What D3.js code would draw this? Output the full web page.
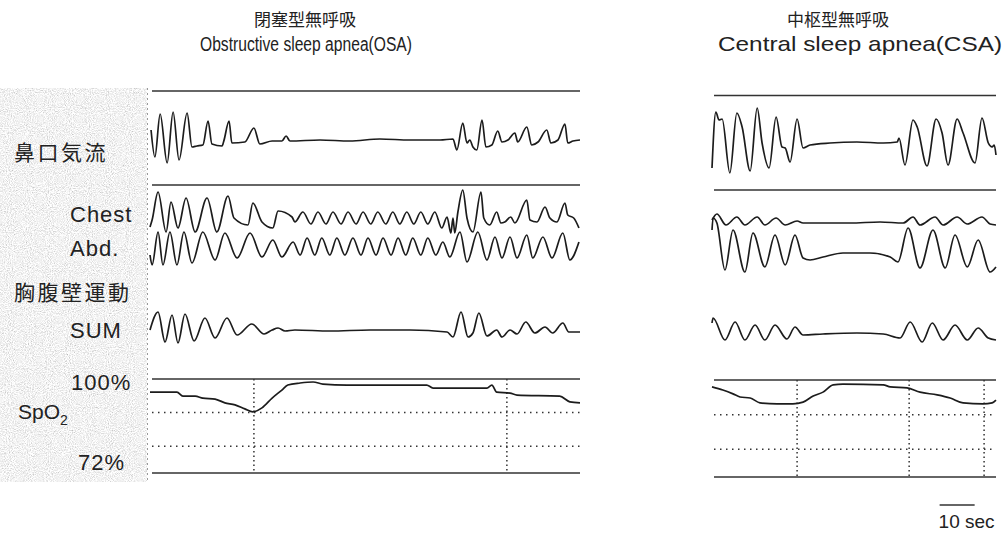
<!DOCTYPE html>
<html>
<head>
<meta charset="utf-8">
<script src="https://cdn.jsdelivr.net/npm/d3@7"></script>
<style>
  body { margin: 0; background: #fff; }
  text { font-family: "Liberation Sans", Arial, sans-serif; fill: #222; }
  .jp { font-family: "Noto Sans CJK JP", sans-serif; }
</style>
</head>
<body>
<div id="chart"></div>
<script>
const svgWidth = 1006
const svgHeight = 533

// ---- data: [time (s), amplitude (a.u.)] ----
// Obstructive sleep apnea
const osaFlow = [[0.3,10],[1.4,-17],[2.9,26],[4.9,-23],[6.6,28],[8.3,-20],[10.6,27],[12.0,-7],[13.4,-6],[15.1,-5],[16.6,19],[17.7,-4],[20.6,-6],[21.1,-1],[22.6,19],[23.4,-3],[27.1,-2],[29.7,12],[31.4,-4],[34.9,-1],[37.7,-1],[38.9,4],[40.0,-1],[48.6,0],[57.1,-1],[65.7,1],[74.3,0],[82.9,0],[86.6,1],[87.7,-10],[89.4,17],[90.6,-3],[91.4,0],[92.3,-7],[93.4,-10],[94.9,20],[96.0,-7],[97.7,-5],[99.4,9],[100.6,-2],[102.3,0],[104.3,7],[105.1,-2],[107.7,13],[109.1,-5],[110.9,-2],[113.4,10],[114.6,-3],[116.6,0],[118.6,16],[119.4,-3],[120.9,-1],[122.9,0]]
const osaChest = [[0,-12],[0.6,-5],[2.3,23],[4.6,-17],[6.0,13],[8.0,-13],[10.3,17],[12.9,-17],[16.3,17],[19.1,-17],[22.3,19],[24.0,-3],[28.0,-10],[29.4,12],[32.0,-7],[35.1,-13],[36.6,4],[40.6,-2],[41.4,-7],[43.7,3],[46.0,-9],[48.0,3],[50.3,-9],[52.3,3],[54.6,-9],[56.6,3],[58.9,-9],[60.9,3],[63.1,-9],[65.1,3],[67.4,-9],[69.4,3],[71.4,-9],[73.4,3],[75.4,-9],[77.4,3],[79.4,-9],[81.4,3],[83.4,-13],[84.9,-2],[86.0,-18],[86.6,-3],[87.1,-18],[88.0,3],[89.4,25],[90.6,-3],[92.3,-17],[94.6,23],[95.4,-3],[97.1,-10],[99.1,3],[100.3,-8],[101.4,-7],[103.1,-2],[104.3,-8],[107.7,15],[108.6,-5],[110.6,-7],[112.9,8],[114.3,-3],[116.3,-7],[118.6,12],[119.4,0],[121.1,-3],[122.6,-13]]
const osaAbd = [[0,-7],[0.6,-17],[2.3,16],[3.7,-17],[5.7,16],[7.7,-17],[9.7,16],[12.0,-15],[15.1,16],[18.6,-12],[21.4,15],[24.9,-10],[28.6,15],[32.0,-9],[35.1,8],[37.7,-9],[40.9,6],[42.9,-7],[44.9,10],[47.1,-7],[49.1,10],[51.4,-7],[53.4,10],[55.7,-7],[58.0,10],[60.3,-7],[62.3,10],[64.6,-7],[66.6,10],[68.9,-7],[70.9,10],[73.1,-7],[75.1,10],[77.4,-7],[79.4,10],[81.7,-7],[83.7,6],[85.7,-9],[88.6,16],[90.6,-14],[93.7,16],[96.3,-12],[98.6,11],[100.6,-10],[102.9,11],[104.9,-10],[107.7,13],[109.4,-10],[112.3,11],[114.9,-10],[118.0,15],[120.0,-12],[122.6,6]]
const osaSum = [[0,0],[2.3,18],[4.3,-12],[6.3,15],[8.0,-13],[10.0,16],[12.6,-11],[15.7,12],[18.6,-8],[22.0,12],[24.9,-5],[29.1,6],[32.6,-4],[34.9,0],[36.6,2],[38.6,-1],[41.4,0],[51.4,-1],[62.9,0],[74.3,0],[84.9,-2],[86.6,-7],[88.9,18],[90.9,-7],[92.3,-3],[94.0,17],[96.3,-6],[99.1,0],[100.6,-7],[102.9,0],[104.9,-4],[107.4,8],[110.0,-3],[112.9,3],[115.1,-3],[118.0,7],[119.7,-2],[122.9,-2]]
// SpO2 in %
const osaSpO2 = [[0,96.1],[7.7,96.1],[9.4,94.9],[12.9,94.9],[15.1,94.3],[18.6,94.0],[21.4,92.9],[24.3,92.3],[27.1,91.1],[29.4,90.2],[32.0,91.4],[34.9,94.3],[37.7,96.7],[39.4,98.2],[42.9,98.8],[46.6,99.1],[49.4,98.5],[56.3,98.2],[79.1,98.2],[80.9,97.3],[96.3,97.3],[97.7,98.2],[99.1,96.1],[102.9,95.8],[104.9,95.2],[117.1,94.9],[120.0,93.2],[122.9,92.9]]
const osaMarks = [29.7, 102.0]
const osaDuration = 122.9

// Central sleep apnea
const csaFlow = [[0,-26],[1.1,30],[2.0,22],[2.9,23],[5.1,-31],[7.1,29],[8.6,15],[10.9,-29],[12.9,34],[14.3,-1],[16.3,-26],[18.3,25],[20.0,-5],[20.9,-6],[22.3,-20],[24.3,23],[26.0,-6],[28.0,-3],[33.7,-1],[41.4,0],[48.9,-1],[52.9,0],[53.4,4],[55.1,-23],[57.4,22],[58.6,15],[61.4,-24],[64.0,23],[65.7,9],[67.4,-23],[70.0,23],[71.7,9],[75.1,-21],[77.1,24],[78.9,-1],[80.0,-5],[80.6,-3],[81.1,-13]]
const csaChest = [[0,1],[1.4,7],[4.0,-4],[7.1,4],[9.4,-4],[12.9,4],[15.1,-4],[18.3,3],[20.9,-4],[24.3,0],[26.0,-2],[39.4,-2],[48.0,-1],[54.6,-2],[57.4,4],[59.4,-4],[63.7,4],[66.0,-4],[70.0,4],[72.9,-3],[77.1,4],[79.4,-3],[81.1,-4]]
const csaAbd = [[0,20],[0.3,32],[1.4,27],[3.7,-20],[6.0,20],[9.4,-22],[11.7,17],[15.1,-17],[18.0,15],[20.9,-15],[23.7,15],[26.0,-8],[28.0,-10],[31.7,-7],[37.4,-3],[45.1,-3],[50.9,-7],[53.1,-12],[56.0,22],[59.4,-18],[63.1,20],[66.6,-18],[69.4,15],[72.9,-17],[76.0,10],[79.4,-22],[81.1,-17]]
const csaSum = [[0,9],[0.3,14],[3.7,-8],[6.6,10],[9.4,-8],[12.3,7],[15.1,-8],[18.0,7],[21.4,-7],[23.7,5],[26.0,-3],[31.7,-2],[41.4,-1],[48.9,-2],[53.7,-6],[56.6,10],[60.0,-10],[62.9,9],[66.0,-8],[69.4,7],[72.9,-8],[76.0,4],[78.9,-6],[81.1,-8]]
const csaSpO2 = [[0,98.0],[3.1,97.1],[6.0,96.0],[8.0,95.1],[10.9,94.8],[13.7,93.4],[18.6,93.1],[23.1,93.1],[26.0,93.6],[28.9,95.4],[31.7,96.5],[34.6,98.6],[37.4,98.8],[48.9,98.6],[50.9,98.0],[55.7,97.7],[59.4,96.5],[64.3,95.7],[68.0,94.8],[71.7,93.4],[77.4,93.1],[80.0,93.4],[81.1,94.2]]
const csaMarks = [24.3, 56.3, 77.7]
const csaDuration = 81.1

const spo2Range = [72, 100]
const spo2Grid = [90, 80]
const scaleBar = { start: 65, length: 10, label: "10 sec" }

const rowLabels = [
  { text: "鼻口気流", jp: true, x: 14, y: 160 },
  { text: "Chest", x: 70, y: 222 },
  { text: "Abd.", x: 70, y: 256 },
  { text: "胸腹壁運動", jp: true, x: 14, y: 300 },
  { text: "SUM", x: 70, y: 338 },
  { text: "100%", x: 71, y: 390 },
  { text: "72%", x: 78, y: 470 }
]

// ---- layout ----
const panels = [
  {
    titleJp: "閉塞型無呼吸", titleEn: "Obstructive sleep apnea(OSA)",
    cx: 306, jpX: 305, enWidth: 212, enSize: 20,
    xRange: [150, 580], duration: osaDuration,
    frame: [91, 185], spo2Box: [379, 473],
    traces: [
      { data: osaFlow, base: 140 },
      { data: osaChest, base: 215 },
      { data: osaAbd, base: 248 },
      { data: osaSum, base: 330 }
    ],
    spo2: osaSpO2, marks: osaMarks
  },
  {
    titleJp: "中枢型無呼吸", titleEn: "Central sleep apnea(CSA)",
    cx: 860, jpX: 838, enWidth: 284, enSize: 21,
    xRange: [712, 996], duration: csaDuration,
    frame: [95.5, 190], spo2Box: [380, 477],
    traces: [
      { data: csaFlow, base: 142 },
      { data: csaChest, base: 221 },
      { data: csaAbd, base: 250 },
      { data: csaSum, base: 332 }
    ],
    spo2: csaSpO2, marks: csaMarks, bar: true
  }
]

let svg = d3
  .select("#chart")
  .append("svg")
  .attr("width", svgWidth)
  .attr("height", svgHeight)

// grainy grey label strip on the left
let defs = svg.append("defs")
let grain = defs.append("filter")
  .attr("id", "grain")
  .attr("x", 0).attr("y", 0).attr("width", "100%").attr("height", "100%")
  .attr("color-interpolation-filters", "sRGB")
grain.append("feTurbulence")
  .attr("type", "fractalNoise")
  .attr("baseFrequency", 0.95)
  .attr("numOctaves", 2)
  .attr("seed", 7)
  .attr("result", "noise")
grain.append("feColorMatrix")
  .attr("type", "matrix")
  .attr("values", "0.33 0.33 0.33 0 0  0.33 0.33 0.33 0 0  0.33 0.33 0.33 0 0  0 0 0 0 1")
let ct = grain.append("feComponentTransfer")
;["feFuncR", "feFuncG", "feFuncB"].forEach(f => {
  ct.append(f).attr("type", "linear").attr("slope", 0.75).attr("intercept", 0.58)
})

svg.append("rect")
  .attr("x", 0).attr("y", 88)
  .attr("width", 147).attr("height", 394)
  .attr("filter", "url(#grain)")

svg.append("line")
  .attr("x1", 147.5).attr("x2", 147.5)
  .attr("y1", 88).attr("y2", 482)
  .attr("stroke", "#999")
  .attr("stroke-width", 1)
  .attr("stroke-dasharray", "2 3")

rowLabels.forEach(l => {
  svg.append("text")
    .attr("class", l.jp ? "jp" : null)
    .attr("x", l.x)
    .attr("y", l.y)
    .style("font-size", l.jp ? "21px" : "22px")
    .style("letter-spacing", l.jp ? "2.5px" : "1px")
    .text(l.text)
})

let spo2Label = svg.append("text")
  .attr("x", 18).attr("y", 419)
  .style("font-size", "21px")
spo2Label.append("tspan").text("SpO")
spo2Label.append("tspan").attr("dy", 6).style("font-size", "14px").text("2")

const ink = "#1c1c1c"

panels.forEach(p => {
  let x = d3.scaleLinear().domain([0, p.duration]).range(p.xRange)
  let g = svg.append("g")

  // titles
  g.append("text")
    .attr("class", "jp")
    .attr("x", p.jpX)
    .attr("y", 26)
    .attr("text-anchor", "middle")
    .style("font-size", "17px")
    .text(p.titleJp)
  g.append("text")
    .attr("x", p.cx - p.enWidth / 2)
    .attr("y", 51)
    .attr("textLength", p.enWidth)
    .attr("lengthAdjust", "spacingAndGlyphs")
    .style("font-size", p.enSize + "px")
    .text(p.titleEn)

  // channel frame lines
  p.frame.concat(p.spo2Box).forEach(yy => {
    g.append("line")
      .attr("x1", x.range()[0] + 2).attr("x2", x.range()[1])
      .attr("y1", yy).attr("y2", yy)
      .attr("stroke", "#333")
      .attr("stroke-width", 1.4)
  })

  // respiratory traces
  p.traces.forEach(tr => {
    let y = d3.scaleLinear().domain([-40, 40]).range([tr.base + 40, tr.base - 40])
    let line = d3.line()
      .x(d => x(d[0]))
      .y(d => y(d[1]))
      .curve(d3.curveMonotoneX)
    g.append("path")
      .datum(tr.data)
      .attr("d", line)
      .attr("fill", "none")
      .attr("stroke", ink)
      .attr("stroke-width", 1.7)
      .attr("stroke-linejoin", "round")
  })

  // SpO2 box
  let ySp = d3.scaleLinear().domain(spo2Range).range([p.spo2Box[1], p.spo2Box[0]])
  spo2Grid.forEach(v => {
    g.append("line")
      .attr("x1", x.range()[0] + 2).attr("x2", x.range()[1])
      .attr("y1", ySp(v)).attr("y2", ySp(v))
      .attr("stroke", "#333")
      .attr("stroke-width", 1.5)
      .attr("stroke-dasharray", "1.5 4.5")
  })
  p.marks.forEach(t => {
    g.append("line")
      .attr("x1", x(t)).attr("x2", x(t))
      .attr("y1", ySp(100)).attr("y2", ySp(72))
      .attr("stroke", "#333")
      .attr("stroke-width", 1.5)
      .attr("stroke-dasharray", "1.5 3")
  })
  let spLine = d3.line()
    .x(d => x(d[0]))
    .y(d => ySp(d[1]))
    .curve(d3.curveMonotoneX)
  g.append("path")
    .datum(p.spo2)
    .attr("d", spLine)
    .attr("fill", "none")
    .attr("stroke", ink)
    .attr("stroke-width", 1.7)

  // 10 sec scale bar
  if (p.bar) {
    g.append("line")
      .attr("x1", x(scaleBar.start)).attr("x2", x(scaleBar.start + scaleBar.length))
      .attr("y1", 505).attr("y2", 505)
      .attr("stroke", "#333")
      .attr("stroke-width", 1.5)
    g.append("text")
      .attr("x", x(scaleBar.start) - 1)
      .attr("y", 528)
      .style("font-size", "19px")
      .text(scaleBar.label)
  }
})
</script>
</body>
</html>
